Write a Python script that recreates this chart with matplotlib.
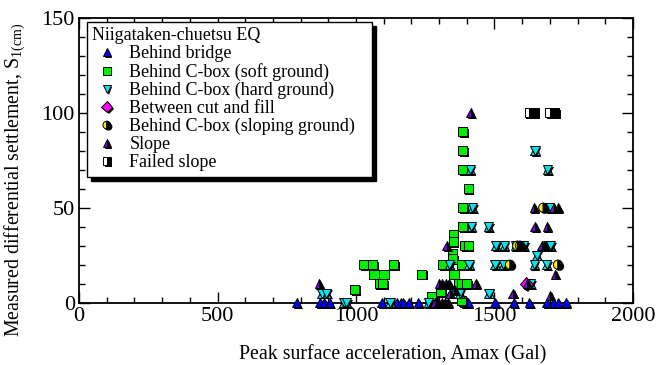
import matplotlib
matplotlib.use("Agg")
import matplotlib.pyplot as plt
import matplotlib.patheffects as pe
from matplotlib.ticker import MultipleLocator

plt.rcParams["font.family"] = ["Liberation Serif", "DejaVu Serif"]
plt.rcParams["mathtext.fontset"] = "custom"
plt.rcParams["mathtext.rm"] = "Liberation Serif"

# Behind bridge
bridge_x = [786, 870, 885, 905, 1093, 1147, 1161, 1171, 1191, 1225, 1393, 1405,
            1502, 1570, 1626, 1688, 1712, 1730, 1758]
bridge_y = [0] * len(bridge_x)

# Behind C-box (soft ground)
soft_x = [996, 1029, 1060, 1135, 1313, 1065, 1101, 1237, 1084, 1096, 1273, 1306,
          1385, 1385, 1385, 1405, 1385, 1385, 1351, 1351, 1393, 1405, 1347, 1349,
          1381, 1354, 1369, 1383, 1399, 1381]
soft_y = [7, 20, 20, 20, 20, 15, 15, 15, 10, 10, 3, 6,
          90, 80, 70, 60, 50, 40, 36, 32, 30, 30, 26, 23,
          20, 15, 10, 10, 10, 1]

# Behind C-box (hard ground)
hard_x = [877, 893, 955, 965, 1123, 1261, 1337, 1375, 1408, 1416, 1420, 1412,
          1478, 1505, 1535, 1575, 1606, 1690, 1702, 1502, 1532, 1643, 1688,
          1480, 1646, 1691, 1700, 1652, 1631]
hard_y = [5, 5, 0, 0, 0, 0, 20, 5, 20, 40, 50, 70,
          40, 30, 30, 30, 30, 30, 30, 20, 20, 20, 20,
          5, 80, 70, 50, 25, 10]

# Between cut and fill
cut_x = [1614]
cut_y = [10]

# Behind C-box (sloping ground)
sloping_x = [1582, 1592, 1556, 1676, 1729]
sloping_y = [30, 30, 20, 50, 20]

# Slope
slope_x = [867, 1414, 1643, 1714, 1730, 1646, 1690, 1327, 1670, 1684, 1719,
           1300, 1312, 1324, 1336, 1433, 1618, 1567, 1338, 1355, 1701,
           1285, 1297, 1309, 1321, 1333]
slope_y = [10, 100, 50, 50, 50, 40, 40, 30, 30, 30, 15,
           10, 10, 10, 10, 10, 10, 5, 5, 7, 4,
           0, 0, 0, 0, 0]

# Failed slope
failed_x = [1625, 1643, 1700, 1718]
failed_y = [100, 100, 100, 100]

shadow = [pe.SimplePatchShadow(offset=(1.2, -1.2), shadow_rgbFace="black", alpha=1.0),
          pe.Normal()]

fig = plt.figure(figsize=(6.59, 3.65), dpi=100)
ax = fig.add_axes([0.1199, 0.1707, 0.8406, 0.7808])

kw = dict(linestyle="none", markeredgecolor="black", markeredgewidth=0.7,
          markersize=6.6, path_effects=shadow, clip_on=False)

ax.plot(bridge_x, bridge_y, marker="^", color="#0000ff", label="Behind bridge",
        zorder=3, **kw)
ax.plot(soft_x, soft_y, marker="s", color="#00ee00",
        label="Behind C-box (soft ground)", zorder=4, **kw)
# hard ground points look like stars: an up triangle under the down triangle
ax.plot(hard_x, hard_y, marker="^", color="#00e5ee", zorder=4, **kw)
ax.plot(hard_x, hard_y, marker="v", color="#00e5ee",
        label="Behind C-box (hard ground)", zorder=4, **kw)
ax.plot(cut_x, cut_y, marker="D", color="#ff00ff", label="Between cut and fill",
        zorder=4, **kw)
ax.plot(sloping_x, sloping_y, marker="o", color="#ffee00", fillstyle="left",
        markerfacecoloralt="black", label="Behind C-box (sloping ground)",
        zorder=4, **kw)
ax.plot(slope_x, slope_y, marker="^", color="#6a0dcc", fillstyle="left",
        markerfacecoloralt="black", label="Slope", zorder=4, **kw)
ax.plot(failed_x, failed_y, marker="s", color="white", fillstyle="left",
        markerfacecoloralt="black", label="Failed slope", zorder=4, **kw)

ax.set_xlim(0, 2000)
ax.set_ylim(0, 150)
ax.xaxis.set_major_locator(MultipleLocator(500))
ax.xaxis.set_minor_locator(MultipleLocator(100))
ax.yaxis.set_major_locator(MultipleLocator(50))
ax.yaxis.set_minor_locator(MultipleLocator(10))
ax.tick_params(which="both", direction="in", top=True, right=True,
               labelsize=16, width=1.0, pad=3)
ax.tick_params(which="major", length=8)
ax.tick_params(which="minor", length=4)
for s in ax.spines.values():
    s.set_linewidth(1.3)

ax.set_xlabel("Peak surface acceleration, Amax (Gal)", fontsize=14.3)
ax.xaxis.set_label_coords(0.566, -0.15)
ax.set_ylabel(r"Measured differential settlement, S$_{\mathregular{1(cm)}}$",
              fontsize=14.3)
ax.yaxis.set_label_coords(-0.092, 0.43)

handles, labels = ax.get_legend_handles_labels()
leg = ax.legend(handles, labels, title="Niigataken-chuetsu EQ",
                loc="upper left", bbox_to_anchor=(0.0144, 0.985, 0.514, 0.0),
                mode="expand",
                borderaxespad=0, fontsize=13, title_fontsize=13,
                alignment="left", markerscale=0.85, handlelength=1.6,
                handletextpad=0.45, labelspacing=0.05, borderpad=0.3,
                frameon=True, fancybox=False, edgecolor="black",
                shadow={"color": "black", "alpha": 1.0, "ox": 3, "oy": -3})
leg.get_frame().set_linewidth(1.0)
leg.set_zorder(10)

fig.savefig("out.png", dpi=100)
